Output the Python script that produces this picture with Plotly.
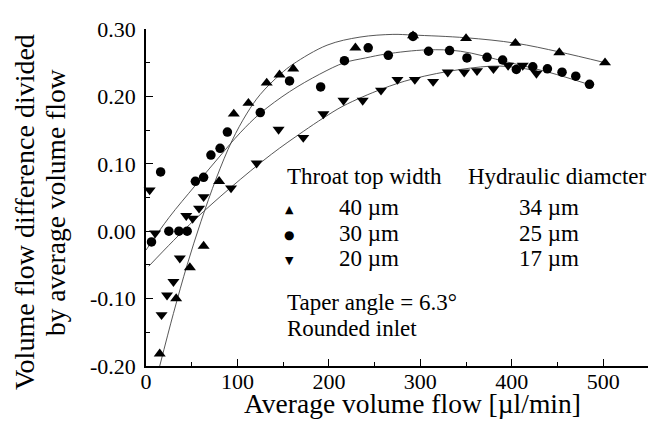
import plotly.graph_objects as go

# ---- data ----
# Throat top width 40 um (triangle up)
t40_x = [15, 33, 48, 63, 80, 96, 112, 132, 146, 161, 229, 292, 350, 404, 452, 502]
t40_y = [-0.182, -0.100, -0.054, -0.022, 0.074, 0.174, 0.190, 0.220, 0.232, 0.241,
         0.272, 0.290, 0.286, 0.279, 0.265, 0.250]
# Throat top width 30 um (circle)
c30_x = [6, 16, 25, 36, 45, 54, 63, 71, 81, 89, 125, 157, 191, 217, 243, 265, 292,
         309, 332, 351, 373, 390, 405, 423, 439, 455, 470, 485]
c30_y = [-0.016, 0.088, 0.000, 0.000, 0.000, 0.074, 0.080, 0.113, 0.123, 0.147,
         0.176, 0.223, 0.214, 0.253, 0.272, 0.261, 0.289, 0.267, 0.268, 0.257,
         0.258, 0.254, 0.240, 0.244, 0.241, 0.236, 0.230, 0.218]
# Throat top width 20 um (triangle down)
d20_x = [4, 10, 17, 23, 30, 37, 44, 51, 58, 63, 93, 121, 145, 172, 194, 216, 237,
         257, 275, 294, 314, 330, 348, 362, 380, 396, 412, 427]
d20_y = [0.061, -0.003, -0.124, -0.095, -0.075, -0.040, 0.023, 0.019, 0.034, 0.051,
         0.064, 0.101, 0.151, 0.139, 0.174, 0.194, 0.194, 0.209, 0.225, 0.225,
         0.222, 0.236, 0.236, 0.238, 0.241, 0.246, 0.246, 0.234]

# fitted curves
f40_x = [15, 30, 45, 60, 77, 94, 110, 125, 147, 161, 198, 234, 270, 292, 350, 404, 452, 502]
f40_y = [-0.200, -0.122, -0.050, 0.014, 0.079, 0.134, 0.174, 0.203, 0.233, 0.248,
         0.276, 0.288, 0.292, 0.291, 0.287, 0.279, 0.266, 0.250]
f30_x = [0, 25, 54, 80, 103, 125, 157, 190, 217, 240, 263, 307, 344, 395, 440, 486]
f30_y = [-0.028, 0.020, 0.068, 0.110, 0.146, 0.175, 0.207, 0.233, 0.250, 0.257,
         0.263, 0.269, 0.267, 0.251, 0.236, 0.217]
f20_x = [3, 30, 54, 92, 137, 172, 194, 216, 258, 292, 344, 387, 428]
f20_y = [-0.052, -0.014, 0.018, 0.064, 0.114, 0.148, 0.168, 0.186, 0.211, 0.226,
         0.240, 0.245, 0.238]

x_ticks = [0, 100, 200, 300, 400, 500]
y_ticks = [-0.20, -0.10, 0.00, 0.10, 0.20, 0.30]
widths = ["40 µm", "30 µm", "20 µm"]
diams = ["34 µm", "25 µm", "17 µm"]
glyphs = ["▲", "●", "▼"]

# ---- figure ----
W, H = 649, 421
L, R, T, B = 146, 1, 29, 55
PW, PH = W - L - R, H - T - B
FONT = "Liberation Serif"


def xp(px):
    return (px - L) / PW


def yp(py):
    return (H - B - py) / PH


fig = go.Figure()
line_style = dict(color="#444444", width=0.9, shape="spline", smoothing=1.0)
for fx, fy in [(f40_x, f40_y), (f30_x, f30_y), (f20_x, f20_y)]:
    fig.add_trace(go.Scatter(x=fx, y=fy, mode="lines", line=line_style,
                             hoverinfo="skip", showlegend=False))

for xs, ys, sym, sz in [(t40_x, t40_y, "triangle-up", 10.5),
                        (c30_x, c30_y, "circle", 9.5),
                        (d20_x, d20_y, "triangle-down", 10.5)]:
    fig.add_trace(go.Scatter(x=xs, y=ys, mode="markers",
                             marker=dict(symbol=sym, size=sz, color="black",
                                         line=dict(width=0)),
                             showlegend=False, cliponaxis=False))

tick_font = dict(family=FONT, size=22, color="black", weight="normal")
axis_common = dict(showline=True, linecolor="black", linewidth=1.5,
                   showgrid=False, zeroline=False, ticks="inside",
                   ticklen=7, tickwidth=1.3, tickcolor="black",
                   tickfont=tick_font, mirror=False)
fig.update_xaxes(range=[0, 549], tickvals=x_ticks,
                 ticktext=[str(v) for v in x_ticks],
                 minor=dict(dtick=50, ticks="inside", ticklen=4,
                            tickwidth=1, tickcolor="black"),
                 ticklabelstandoff=-5,
                 **axis_common)
fig.update_yaxes(range=[-0.20, 0.30], tickvals=y_ticks,
                 ticktext=[f"{v:.2f}" for v in y_ticks],
                 minor=dict(dtick=0.05, ticks="inside", ticklen=4,
                            tickwidth=1, tickcolor="black"),
                 ticklabelstandoff=4,
                 **axis_common)

ann = []
txt = dict(family=FONT, size=23, color="black")
ann.append(dict(text="Throat top width", x=xp(285), y=yp(177), xanchor="left",
                yanchor="middle", font=txt))
ann.append(dict(text="Hydraulic diamcter", x=xp(466), y=yp(177), xanchor="left",
                yanchor="middle", font=txt))
row_y = [207, 233, 258]
glyph_size = [11, 12, 11]
for i in range(3):
    ann.append(dict(text=glyphs[i], x=xp(289), y=yp(row_y[i] + 2), xanchor="center",
                    yanchor="middle",
                    font=dict(family="DejaVu Sans", size=glyph_size[i], color="black")))
    ann.append(dict(text=widths[i], x=xp(337), y=yp(row_y[i]), xanchor="left",
                    yanchor="middle", font=txt))
    ann.append(dict(text=diams[i], x=xp(517), y=yp(row_y[i]), xanchor="left",
                    yanchor="middle", font=txt))
ann.append(dict(text="Taper angle = 6.3°", x=xp(285), y=yp(302), xanchor="left",
                yanchor="middle", font=txt))
ann.append(dict(text="Rounded inlet", x=xp(285), y=yp(328), xanchor="left",
                yanchor="middle", font=txt))

title_font = dict(family=FONT, size=27.5, color="black")
ann.append(dict(text="Average volume flow [µl/min]", x=xp(412), y=yp(420.5),
                xanchor="center", yanchor="bottom", font=title_font))
ann.append(dict(text="Volume flow difference divided", x=xp(24), y=yp(212),
                xanchor="center", yanchor="middle", textangle=-90,
                font=dict(family=FONT, size=28, color="black")))
ann.append(dict(text="by average volume flow", x=xp(55), y=yp(203),
                xanchor="center", yanchor="middle", textangle=-90,
                font=dict(family=FONT, size=27.5, color="black")))
for a in ann:
    a.update(xref="paper", yref="paper", showarrow=False)

fig.update_layout(width=W, height=H, margin=dict(l=L, r=R, t=T, b=B, pad=0),
                  plot_bgcolor="white", paper_bgcolor="white",
                  font=dict(family=FONT, color="black"),
                  annotations=ann, showlegend=False)

fig.write_html("out.html", config={"displayModeBar": False},
               post_script="document.body.style.margin='0';"
                           "document.body.style.overflow='hidden';")
